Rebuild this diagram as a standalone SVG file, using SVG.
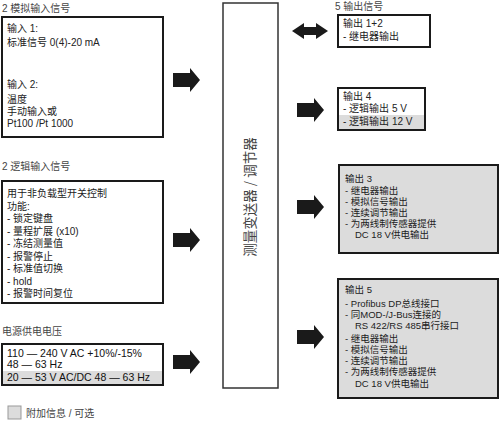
<svg xmlns="http://www.w3.org/2000/svg" xmlns:xlink="http://www.w3.org/1999/xlink" width="500" height="421" viewBox="0 0 500 421">
<style>
.t{font-family:"Liberation Sans","Noto Sans CJK SC",sans-serif;font-size:10px;fill:#222}
.s{font-family:"Liberation Sans","Noto Sans CJK SC",sans-serif;font-size:9.5px;fill:#222}
.h{font-family:"Liberation Sans","Noto Sans CJK SC",sans-serif;font-size:10px;fill:#444}
.p{font-family:"Liberation Sans","Noto Sans CJK SC",sans-serif;font-size:10.5px;fill:#111}
.box{fill:#fff;stroke:#1a1a1a;stroke-width:2}
.gbox{fill:#dcdcdc;stroke:#1a1a1a;stroke-width:2}
.grow{fill:#dcdcdc}
.arr{fill:#1a1a1a}
</style>
<defs>
<path id="ar" d="M0,-7 H17 V-12 L27,0 L17,12 V7 H0 Z"/>
</defs>
<text class="h" x="2" y="12">2  模拟输入信号</text>
<g id="analog-input">
<rect class="box" x="2" y="17" width="161" height="120"/>
<text class="t" x="7" y="32">输入  1:</text>
<text class="t" x="7" y="46">标准信号  0(4)-20 mA</text>
<text class="t" x="7" y="88">输入  2:</text>
<text class="t" x="7" y="103">温度</text>
<text class="t" x="7" y="115">手动输入或</text>
<text class="t" x="7" y="127">Pt100 /Pt 1000</text>
</g>
<text class="h" x="2" y="170">2  逻辑输入信号</text>
<g id="logic-input">
<rect class="box" x="2" y="181" width="161" height="122"/>
<text class="t" x="7" y="197">用于非负载型开关控制</text>
<text class="t" x="7" y="209.5">功能:</text>
<text class="t" x="7" y="222">- 锁定键盘</text>
<text class="t" x="7" y="234.5">- 量程扩展   (x10)</text>
<text class="t" x="7" y="247">- 冻结测量值</text>
<text class="t" x="7" y="259.5">- 报警停止</text>
<text class="t" x="7" y="272">- 标准值切换</text>
<text class="t" x="7" y="284.5">- hold</text>
<text class="t" x="7" y="297">- 报警时间复位</text>
</g>
<text class="h" x="2" y="335">电源供电电压</text>
<g id="power">
<rect class="box" x="2" y="344" width="161" height="41"/>
<rect class="grow" x="3" y="371" width="159" height="13"/>
<text class="p" x="7" y="357">110 — 240 V AC +10%/-15%</text>
<text class="p" x="7" y="368">48 — 63 Hz</text>
<text class="p" x="7" y="381">20 — 53 V AC/DC 48 — 63 Hz</text>
</g>
<g id="legend">
<rect x="8" y="406" width="13" height="13" fill="#dcdcdc" stroke="#999" stroke-width="1"/>
<text class="h" x="26" y="417">附加信息 / 可选</text>
</g>
<g id="center">
<rect x="223" y="3" width="55" height="385" fill="#fff" stroke="#333" stroke-width="1.5"/>
<text transform="translate(255,197) rotate(-90)" text-anchor="middle" font-family="'Noto Sans CJK SC',sans-serif" font-size="13.5" fill="#444">测量变送器 / 调节器</text>
</g>
<text class="h" x="335" y="10">5  输出信号</text>
<g id="out12">
<rect class="box" x="338" y="15" width="92" height="32"/>
<text class="t" x="343" y="27">输出 1+2</text>
<text class="t" x="343" y="40">- 继电器输出</text>
</g>
<g id="out4">
<rect class="box" x="338" y="88" width="87" height="42"/>
<rect class="grow" x="339" y="115" width="85" height="14"/>
<text class="t" x="343" y="100">输出 4</text>
<text class="t" x="343" y="112">- 逻辑输出 5 V</text>
<text class="t" x="343" y="125">- 逻辑输出 12 V</text>
</g>
<g id="out3">
<rect class="gbox" x="339" y="165" width="159" height="88"/>
<text class="s" x="345" y="182">输出 3</text>
<text class="s" x="345" y="194">- 继电器输出</text>
<text class="s" x="345" y="205">- 模拟信号输出</text>
<text class="s" x="345" y="216">- 连续调节输出</text>
<text class="s" x="345" y="227">- 为两线制传感器提供</text>
<text class="s" x="355" y="238">DC 18 V供电输出</text>
</g>
<g id="out5">
<rect class="gbox" x="338" y="279" width="160" height="119"/>
<text class="s" x="345" y="293">输出 5</text>
<text class="s" x="345" y="307">- Profibus DP总线接口</text>
<text class="s" x="345" y="318">- 同MOD-/J-Bus连接的</text>
<text class="s" x="355" y="329">RS 422/RS 485串行接口</text>
<text class="s" x="345" y="342">- 继电器输出</text>
<text class="s" x="345" y="353">- 模拟信号输出</text>
<text class="s" x="345" y="364">- 连续调节输出</text>
<text class="s" x="345" y="375">- 为两线制传感器提供</text>
<text class="s" x="355" y="387">DC 18 V供电输出</text>
</g>
<g id="connectors" class="arr">
<use xlink:href="#ar" x="173" y="80"/>
<use xlink:href="#ar" x="173" y="240"/>
<use xlink:href="#ar" x="173" y="362"/>
<path d="M292,31 L304,23 V27 H316 V23 L328,31 L316,39 V35 H304 V39 Z"/>
<use xlink:href="#ar" x="297" y="110"/>
<use xlink:href="#ar" x="297" y="207"/>
<use xlink:href="#ar" x="297" y="337"/>
</g>
</svg>
